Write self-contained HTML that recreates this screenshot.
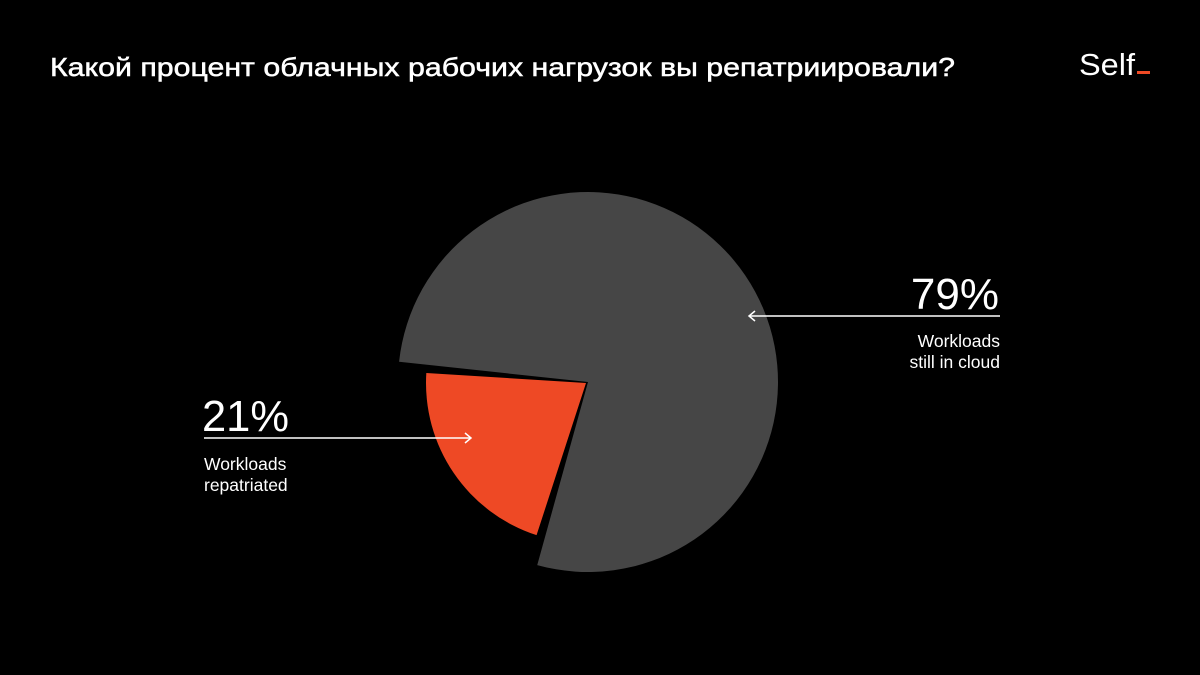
<!DOCTYPE html>
<html><head><meta charset="utf-8"><style>
html,body{margin:0;background:#000;width:1200px;height:675px;overflow:hidden;font-family:"Liberation Sans","Noto Sans CJK SC",sans-serif}
svg{display:block}
</style></head><body>
<svg width="1200" height="675" xmlns="http://www.w3.org/2000/svg" style="position:absolute;left:0;top:0">
<rect width="1200" height="675" fill="#000"/>
<text x="50" y="76" fill="#fff" stroke="#fff" stroke-width="0.5" font-size="26" textLength="905" lengthAdjust="spacingAndGlyphs" font-family="Liberation Sans, sans-serif">Какой процент облачных рабочих нагрузок вы репатриировали?</text>
<g>
<text x="1079" y="75" fill="#fff" font-size="31" textLength="56" lengthAdjust="spacingAndGlyphs" font-family="Liberation Sans, sans-serif">Self</text>
<rect x="1137" y="71" width="13" height="3" fill="#ef4a25"/>
</g>
<g id="slices"></g>
<g fill="#fff" font-family="Liberation Sans, sans-serif">
<text x="202" y="431" font-size="44" textLength="87" lengthAdjust="spacingAndGlyphs">21%</text>
<text x="204" y="470" font-size="17.5">Workloads</text>
<text x="204" y="491" font-size="17.5">repatriated</text>
</g>
<g stroke="#fff" stroke-width="1.5" fill="none">
<line x1="204" y1="438" x2="470" y2="438"/><polyline points="465,433 471,438 465,443"/>
</g>
<g fill="#fff" font-family="Liberation Sans, sans-serif" text-anchor="end">
<text x="999" y="309" font-size="44">79%</text>
<text x="1000" y="347" font-size="17.5">Workloads</text>
<text x="1000" y="368" font-size="17.5">still in cloud</text>
</g>
<g stroke="#fff" stroke-width="1.5" fill="none">
<line x1="749" y1="316" x2="1000" y2="316"/><polyline points="755,311 749,316 755,321"/>
</g>
</svg>
<script>
const categories = ["Workloads repatriated", "Workloads still in cloud"];
const values = [21, 79];
const colors = ["#ee4925", "#464646"];
const ns = "http://www.w3.org/2000/svg";
const cx = 586, cy = 383, startDeg = 108, gap = 2.5;
function pt(c, r, a){ const t = a*Math.PI/180; return [c[0]+r*Math.cos(t), c[1]+r*Math.sin(t)]; }
function arc(c, r, a0, a1){
  const p0 = pt(c,r,a0), p1 = pt(c,r,a1);
  const large = (a1-a0) > 180 ? 1 : 0;
  return `M${c[0]},${c[1]} L${p0[0]},${p0[1]} A${r},${r} 0 ${large} 1 ${p1[0]},${p1[1]} Z`;
}
const total = values.reduce((a,b)=>a+b,0);
const g = document.getElementById('slices');
let a = startDeg;
values.forEach((v,i)=>{
  const span = v/total*360;
  const path = document.createElementNS(ns,'path');
  let d;
  if(i===0){ d = arc([cx,cy],160,a,a+span); }
  else { d = arc([cx+2,cy-1],190,a+gap,a+span-gap); }
  path.setAttribute('d', d);
  path.setAttribute('fill', colors[i]);
  
  
  g.appendChild(path);
  a += span;
});
</script>
</body></html>
